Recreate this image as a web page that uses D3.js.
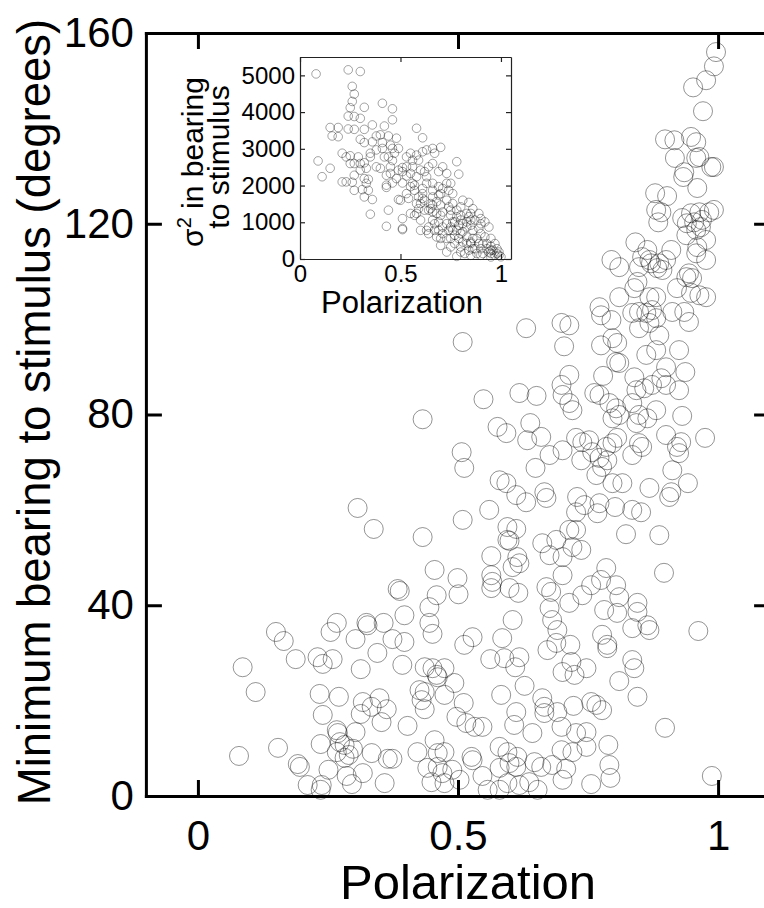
<!DOCTYPE html>
<html><head><meta charset="utf-8">
<script src="https://cdn.jsdelivr.net/npm/d3@7"></script>
<style>
body{margin:0;background:#fff;}
text{font-family:"Liberation Sans",Arial,Helvetica,sans-serif;fill:#000;}
</style>
</head><body>
<svg id="chart" width="764" height="908"></svg>
<script>
// ---------- data ----------
const xTicks = [0, 0.5, 1];
const xTickLabels = ["0", "0.5", "1"];
const yTicks = [0, 40, 80, 120, 160];
const yTickLabels = ["0", "40", "80", "120", "160"];
const insetXTicks = [0, 0.5, 1];
const insetXTickLabels = ["0", "0.5", "1"];
const insetYTicks = [0, 1000, 2000, 3000, 4000, 5000];
const insetYTickLabels = ["0", "1000", "2000", "3000", "4000", "5000"];

// main panel: [polarization, minimum bearing to stimulus (deg)]
const mainPoints = [
[0.455,47.4],[0.384,43.4],[0.388,43.0],[0.459,42.1],[0.445,39.6],[0.397,37.9],[0.445,36.3],[0.451,34.0],[0.150,34.4],[0.165,32.5],[0.267,36.3],[0.255,34.4],[0.324,36.3],[0.326,35.8],[0.357,36.3],[0.303,32.9],[0.374,32.9],[0.397,32.3],[0.345,30.0],[0.188,28.7],[0.230,29.1],[0.240,27.7],[0.259,28.7],[0.313,26.6],[0.393,27.5],[0.086,27.0],[0.111,21.8],[0.436,27.0],[0.451,26.8],[0.461,24.9],[0.474,26.8],[0.459,25.4],[0.426,22.2],[0.436,21.8],[0.430,20.1],[0.436,18.2],[0.474,21.2],[0.234,21.4],[0.271,20.8],[0.317,19.7],[0.334,18.7],[0.349,20.5],[0.363,18.2],[0.313,17.2],[0.240,17.0],[0.353,15.5],[0.403,14.7],[0.267,13.8],[0.269,13.2],[0.303,13.4],[0.236,10.9],[0.273,11.3],[0.282,10.7],[0.267,9.2],[0.298,9.9],[0.290,8.6],[0.282,8.0],[0.334,9.0],[0.365,7.8],[0.374,7.8],[0.422,9.2],[0.455,11.7],[0.461,9.0],[0.474,9.2],[0.079,8.4],[0.154,10.1],[0.192,6.7],[0.196,6.1],[0.251,5.5],[0.286,4.2],[0.296,2.5],[0.317,4.8],[0.359,2.7],[0.211,2.3],[0.238,2.3],[0.236,1.3],[0.441,5.9],[0.461,6.1],[0.470,4.8],[0.449,2.9],[0.474,2.7],
[0.499,45.7],[0.501,42.3],[0.564,46.3],[0.566,44.9],[0.564,43.6],[0.599,43.6],[0.616,42.6],[0.605,48.0],[0.618,48.8],[0.670,43.8],[0.679,42.8],[0.676,39.4],[0.681,36.9],[0.691,34.8],[0.701,46.3],[0.714,40.5],[0.739,42.1],[0.756,44.2],[0.775,45.3],[0.785,47.8],[0.804,44.2],[0.810,41.7],[0.781,39.0],[0.806,38.4],[0.845,40.5],[0.845,38.6],[0.835,35.2],[0.864,35.8],[0.868,34.8],[0.896,46.8],[0.962,34.6],[0.605,36.9],[0.528,33.3],[0.512,31.7],[0.585,33.1],[0.562,28.7],[0.589,28.9],[0.610,27.0],[0.618,29.1],[0.672,30.6],[0.689,32.1],[0.716,31.7],[0.718,28.1],[0.701,26.0],[0.724,25.4],[0.747,26.8],[0.777,33.8],[0.787,31.7],[0.787,31.0],[0.835,28.5],[0.839,26.8],[0.810,24.1],[0.845,20.8],[0.493,23.7],[0.511,19.5],[0.628,23.1],[0.583,21.2],[0.497,16.6],[0.516,15.3],[0.532,14.5],[0.547,14.5],[0.612,17.6],[0.608,14.9],[0.643,13.2],[0.662,20.5],[0.666,18.7],[0.666,17.4],[0.691,17.6],[0.699,14.5],[0.722,18.9],[0.756,19.7],[0.766,19.1],[0.777,18.0],[0.727,13.2],[0.747,13.4],[0.747,10.3],[0.699,9.6],[0.720,9.2],[0.789,10.7],[0.898,14.3],[0.489,5.5],[0.503,3.4],[0.526,8.2],[0.528,7.5],[0.580,10.3],[0.595,9.2],[0.614,8.2],[0.599,6.9],[0.580,5.9],[0.612,6.1],[0.647,7.1],[0.660,6.1],[0.681,6.5],[0.547,4.2],[0.708,5.7],[0.701,3.4],[0.791,6.5],[0.793,3.8],[0.756,2.5],[0.595,2.7],[0.618,2.3],[0.637,2.9],[0.653,1.3],[0.557,1.3],[0.580,1.3],[0.988,4.2],
[0.509,95.2],[0.631,98.1],[0.699,99.2],[0.714,98.7],[0.704,94.3],[0.775,100.8],[0.795,99.8],[0.797,96.0],[0.775,94.5],[0.806,95.0],[0.804,91.0],[0.810,90.8],[0.835,101.3],[0.848,101.5],[0.862,101.3],[0.873,101.9],[0.848,98.1],[0.868,99.2],[0.881,100.2],[0.912,101.5],[0.935,101.5],[0.944,99.4],[0.887,96.6],[0.881,93.5],[0.862,92.5],[0.925,93.5],[0.900,89.9],[0.714,88.3],[0.699,86.2],[0.701,84.1],[0.714,82.4],[0.720,80.9],[0.779,88.1],[0.762,84.5],[0.772,84.1],[0.791,82.4],[0.804,81.3],[0.797,79.2],[0.810,79.9],[0.839,87.8],[0.843,85.1],[0.858,85.5],[0.873,86.2],[0.891,87.6],[0.900,86.2],[0.925,85.1],[0.937,88.9],[0.835,82.4],[0.848,79.9],[0.864,79.2],[0.881,80.9],[0.843,78.2],[0.931,79.7],[0.975,75.1],[0.900,75.7],[0.921,73.2],[0.925,71.9],[0.618,84.5],[0.651,83.9],[0.549,83.2],[0.432,79.0],[0.576,77.4],[0.593,76.1],[0.639,78.2],[0.633,74.6],[0.660,75.3],[0.676,71.5],[0.701,72.5],[0.727,75.1],[0.739,74.2],[0.752,74.6],[0.737,70.4],[0.758,72.1],[0.772,70.9],[0.785,73.2],[0.797,74.0],[0.806,75.1],[0.777,69.0],[0.787,70.4],[0.766,67.3],[0.835,71.5],[0.848,74.0],[0.854,73.2],[0.797,65.6],[0.816,65.6],[0.868,64.6],[0.912,68.3],[0.910,63.7],[0.906,62.7],[0.942,65.6],[0.507,72.1],[0.512,68.8],[0.649,68.8],[0.580,66.2],[0.593,65.6],[0.612,63.1],[0.631,61.6],[0.666,63.7],[0.670,62.5],[0.729,62.7],[0.727,59.5],[0.743,61.0],[0.772,61.4],[0.768,59.3],[0.802,60.6],[0.835,60.0],[0.852,59.5],[0.560,60.0],[0.509,57.9],[0.432,54.3],[0.595,56.4],[0.612,56.0],[0.595,53.7],[0.599,53.5],[0.714,55.8],[0.727,55.8],[0.737,51.6],[0.720,52.2],[0.689,53.7],[0.676,50.5],[0.701,50.1],[0.662,53.0],[0.823,54.9],[0.887,54.7],[0.564,50.3],[0.614,50.1],[0.307,60.4],[0.338,56.0],
[0.996,156.0],[0.992,153.0],[0.977,150.1],[0.952,148.6],[0.971,143.6],[0.898,137.7],[0.916,137.5],[0.948,138.2],[0.958,137.1],[0.917,133.8],[0.964,134.0],[0.958,133.8],[0.935,130.8],[0.933,129.8],[0.987,131.9],[0.992,131.9],[0.960,127.5],[0.879,126.4],[0.902,125.8],[0.881,122.9],[0.885,120.3],[0.891,122.4],[0.931,121.2],[0.948,122.2],[0.964,122.4],[0.983,122.4],[0.992,122.9],[0.940,120.1],[0.954,120.3],[0.969,120.8],[0.939,117.6],[0.958,118.7],[0.967,119.3],[0.977,116.6],[0.960,115.1],[0.958,113.8],[0.977,112.4],[0.841,116.1],[0.864,114.5],[0.854,113.0],[0.868,112.4],[0.795,112.4],[0.810,110.9],[0.910,114.5],[0.900,112.4],[0.893,110.3],[0.883,110.7],[0.848,110.9],[0.871,111.7],[0.887,111.7],[0.845,107.8],[0.839,106.5],[0.939,108.8],[0.950,108.6],[0.921,106.5],[0.948,105.5],[0.964,105.0],[0.977,104.6],[0.810,104.6],[0.868,104.6],[0.881,104.6],[0.944,109.6],[0.929,74.2],[0.772,102.5]
];

// inset: [polarization, variance in bearing to stimulus]
const insetPoints = [
[0.08,5040],[0.24,5150],[0.30,5105],[0.26,4700],[0.27,4490],[0.26,4290],[0.25,4120],[0.32,4130],[0.41,4240],[0.46,4090],[0.24,3890],[0.27,3880],[0.30,3830],[0.46,3790],[0.15,3580],[0.19,3580],[0.19,3330],[0.16,3350],[0.24,3540],[0.27,3530],[0.32,3530],[0.36,3650],[0.42,3620],[0.38,3350],[0.40,3380],[0.30,3260],[0.32,3170],[0.36,3190],[0.44,3350],[0.48,3290],[0.58,3560],[0.61,3300],
[0.09,2670],[0.15,2470],[0.11,2240],[0.23,2780],[0.25,2810],[0.27,2600],[0.30,2600],[0.32,2620],[0.30,2420],[0.27,2280],[0.32,2190],[0.34,2170],[0.21,2100],[0.23,2100],[0.26,2090],[0.33,2060],[0.27,1870],[0.31,1890],[0.34,1870],[0.32,1690],[0.36,1620],[0.35,1220],
[0.35,2880],[0.38,2510],[0.40,2470],[0.41,3010],[0.45,3100],[0.44,2780],[0.46,2680],[0.47,2880],[0.49,3010],[0.45,2510],[0.43,2280],[0.45,2330],[0.49,2420],[0.51,2490],[0.53,2780],[0.55,2880],[0.56,2690],[0.58,2830],[0.61,2920],[0.63,2970],[0.66,3010],[0.67,2880],[0.70,3040],[0.66,2600],[0.64,2510],[0.62,2380],[0.60,2420],[0.58,2240],[0.53,2260],[0.51,2070],[0.55,1970],[0.56,2060],[0.43,2010],[0.43,1950],[0.50,1600],[0.49,1620],[0.53,1780],[0.57,1870],[0.59,1690],[0.60,1510],[0.55,1240],[0.51,1100],[0.51,830],[0.51,800],[0.44,1330],[0.43,890],
[0.58,1240],[0.60,1060],[0.63,780],[0.62,1330],[0.65,1510],[0.66,1280],[0.68,1560],[0.70,1780],[0.69,1970],[0.69,2380],[0.71,2510],[0.73,2330],[0.78,2650],[0.79,2310],[0.75,2060],[0.76,1780],[0.73,2060],[0.74,1870],[0.63,2060],[0.61,1920],[0.66,1870],[0.61,1650],[0.66,1060],[0.71,1280],[0.74,1420],[0.76,1510],[0.78,1330],[0.80,1420],[0.81,1600],[0.84,1540],[0.69,1010],[0.73,960],[0.76,1010],[0.78,780],[0.71,690],[0.73,560],[0.70,370],[0.75,560],[0.80,690],[0.83,870],[0.85,1060],[0.86,780],[0.89,830],[0.90,960],[0.94,870],[0.90,690],[0.92,600],[0.95,560],[0.97,420],[0.80,330],[0.83,420],[0.85,460],[0.87,280],[0.91,420],[0.93,280],[0.94,190],[0.96,240],[0.98,150],[1.00,60],[0.80,190],[0.82,150],[0.85,100],[0.88,150],[0.90,100],[0.78,70],
[0.66,1690],[0.68,1240],[0.70,1190],[0.75,1190],[0.80,1190],[0.83,1240],[0.80,1060],[0.76,780],[0.81,740],[0.86,560],[0.89,420],[0.95,350],[0.95,150],[0.99,100],[0.98,280],
[0.60,780],[0.64,870],[0.57,1190],[0.59,1370],[0.61,1780],[0.58,1510],[0.54,1650],[0.64,690],[0.67,780],[0.68,600],[0.71,870],[0.64,1330],[0.66,1470],[0.77,1010],[0.79,920],[0.81,960],[0.84,1150],[0.78,1150],
[0.62,1600],[0.65,1370],[0.67,960],[0.69,780],[0.70,560],[0.74,780],[0.75,870],[0.77,650],[0.79,560],[0.81,460],[0.83,600],[0.85,420],[0.86,280],[0.88,560],[0.90,280],[0.91,150],[0.93,420],[0.95,240],[0.95,55],[0.97,100],[0.99,190],[0.84,240],[0.75,330],[0.73,190],[0.77,420],[0.83,1010],[0.85,920],[0.87,1060],[0.90,1100],[0.92,1010],[0.85,1240],[0.86,1370],[0.89,1240],[0.75,1330],[0.73,1600],[0.70,1470],[0.69,1740],[0.71,1920],[0.66,2060],[0.63,2240],[0.57,2010],[0.55,2330],[0.51,2380],[0.48,2190],[0.46,2070],[0.53,2510],[0.56,2510],[0.59,2690],[0.46,3010],[0.42,2780],[0.38,2970],[0.41,3170],[0.35,2780],[0.33,2470],[0.25,2600],[0.29,2780],[0.21,2880]
];

// ---------- drawing ----------
const svg = d3.select("#chart");
svg.append("rect").attr("width",764).attr("height",908).attr("fill","#fff");

const x = d3.scaleLinear().domain([-0.1, 1.1]).range([145.9, 770.1]);
const y = d3.scaleLinear().domain([0, 160]).range([796, 33]);

// main circles
svg.append("g").selectAll("circle").data(mainPoints).join("circle")
  .attr("cx", d => x(d[0])).attr("cy", d => y(d[1])).attr("r", 9.5)
  .attr("fill", "none").attr("stroke", "#000").attr("stroke-opacity", 0.42).attr("stroke-width", 1);

function styleAxis(g, w, fs){
  g.select(".domain").attr("stroke","#000").attr("stroke-width",w).attr("stroke-linecap","square").attr("fill","none");
  g.selectAll(".tick line").attr("stroke","#000").attr("stroke-width",w);
  g.selectAll(".tick text").attr("font-size",fs).attr("fill","#000")
    .style("font-family","'Liberation Sans', Arial, sans-serif");
}

const axB = svg.append("g").attr("transform","translate(0,796)")
  .call(d3.axisBottom(x).tickValues(xTicks).tickSizeInner(-16).tickSizeOuter(0).tickPadding(24)
        .tickFormat((d,i)=>xTickLabels[i]));
styleAxis(axB, 3, 42);
const axT = svg.append("g").attr("transform","translate(0,33)")
  .call(d3.axisTop(x).tickValues(xTicks).tickSizeInner(-16).tickSizeOuter(0).tickFormat(""));
styleAxis(axT, 3, 42);
const axL = svg.append("g").attr("transform","translate(145.9,0)")
  .call(d3.axisLeft(y).tickValues(yTicks).tickSizeInner(-16).tickSizeOuter(0).tickPadding(12)
        .tickFormat((d,i)=>yTickLabels[i]));
styleAxis(axL, 3, 42);
const axR = svg.append("g").attr("transform","translate(770.1,0)")
  .call(d3.axisRight(y).tickValues(yTicks).tickSizeInner(-16).tickSizeOuter(0).tickFormat(""));
styleAxis(axR, 3, 42);

svg.append("text").attr("x",468).attr("y",899).attr("text-anchor","middle")
  .attr("font-size",49).text("Polarization");
svg.append("text").attr("transform","translate(50,412) rotate(-90)").attr("text-anchor","middle")
  .attr("font-size",45.5).text("Minimum bearing to stimulus (degrees)");

// ---------- inset ----------
const ix = d3.scaleLinear().domain([0, 1.05]).range([300, 511]);
const iy = d3.scaleLinear().domain([0, 5500]).range([259, 57]);
const inset = svg.append("g");
inset.append("rect").attr("x",300).attr("y",57).attr("width",211).attr("height",202).attr("fill","#fff");
inset.append("g").selectAll("circle").data(insetPoints).join("circle")
  .attr("cx", d => ix(d[0])).attr("cy", d => iy(d[1])).attr("r", 4.3)
  .attr("fill","none").attr("stroke","#000").attr("stroke-opacity",0.4).attr("stroke-width",0.9);

function styleInset(g){
  g.select(".domain").attr("stroke","#222").attr("stroke-width",1.2).attr("fill","none");
  g.selectAll(".tick line").attr("stroke","#222").attr("stroke-width",1.2);
  g.selectAll(".tick text").attr("font-size",24).attr("fill","#000")
    .style("font-family","'Liberation Sans', Arial, sans-serif");
}
const ib = inset.append("g").attr("transform","translate(0,259)")
  .call(d3.axisBottom(ix).tickValues(insetXTicks).tickSizeInner(-5).tickSizeOuter(0).tickPadding(6)
        .tickFormat((d,i)=>insetXTickLabels[i]));
styleInset(ib);
const it = inset.append("g").attr("transform","translate(0,57)")
  .call(d3.axisTop(ix).tickValues(insetXTicks).tickSizeInner(-5).tickSizeOuter(0).tickFormat(""));
styleInset(it);
const il = inset.append("g").attr("transform","translate(300,0)")
  .call(d3.axisLeft(iy).tickValues(insetYTicks).tickSizeInner(-5).tickSizeOuter(0).tickPadding(5)
        .tickFormat((d,i)=>insetYTickLabels[i]));
styleInset(il);
const ir = inset.append("g").attr("transform","translate(511,0)")
  .call(d3.axisRight(iy).tickValues(insetYTicks).tickSizeInner(-5).tickSizeOuter(0).tickFormat(""));
styleInset(ir);

inset.append("text").attr("x",402).attr("y",313).attr("text-anchor","middle")
  .attr("font-size",31).text("Polarization");
const t1 = inset.append("text").attr("transform","translate(203,162) rotate(-90)")
  .attr("text-anchor","middle").attr("font-size",30);
t1.append("tspan").text("σ");
t1.append("tspan").attr("dy",-12).attr("font-size",20).text("2");
t1.append("tspan").attr("dy",12).text(" in bearing");
inset.append("text").attr("transform","translate(229,157) rotate(-90)")
  .attr("text-anchor","middle").attr("font-size",30).text("to stimulus");
</script>
</body></html>
